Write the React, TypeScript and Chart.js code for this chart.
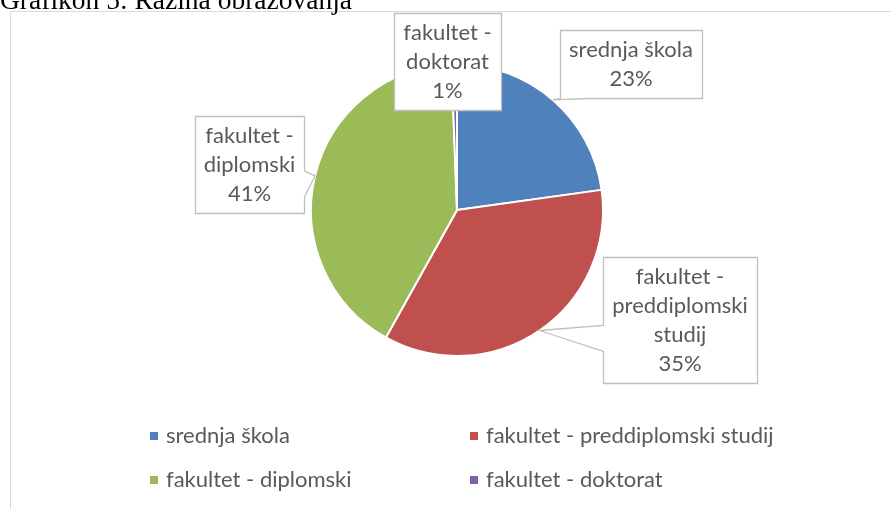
import React, { useEffect, useRef } from 'react';
import { Chart, registerables } from 'chart.js';

Chart.register(...registerables);

// ---- data ----
const categories = [
  'srednja škola',
  'fakultet - preddiplomski studij',
  'fakultet - diplomski',
  'fakultet - doktorat',
];
const values = [22.8, 35.3, 41.3, 0.6];
const colors = ['#4F81BD', '#C0504D', '#9BBB59', '#8064A2'];
const titleText = 'Grafikon 5: Razina obrazovanja';

// ---- layout ----
const W = 891;
const H = 509;
const CX = 457;
const CY = 210;
const R = 146;
const FONT = '22px Lato';
const TEXT_COLOR = '#595959';
const LINE_COLOR = '#BFBFBF';
const LH = 29;
const PAD_X = 9;
const PAD_Y = 5;
const labelBoxOffsets: [number, number][] = [
  [174, -146.5],
  [223, 110],
  [-207.5, -45.5],
  [-9.5, -149],
];
const labelWrapWidths = [150, 160, 105, 100];
const labelPointerSide: (string | null)[] = ['bottom', 'left', 'right', null];
const legendColX = [150, 470];
const legendRowY = [436, 480];

function wrapText(ctx: CanvasRenderingContext2D, text: string, maxW: number): string[] {
  const words = text.split(' ');
  const lines: string[] = [];
  let cur = '';
  for (const w of words) {
    const test = cur ? cur + ' ' + w : w;
    if (cur && ctx.measureText(test).width > maxW) {
      lines.push(cur);
      cur = w;
    } else {
      cur = test;
    }
  }
  if (cur) lines.push(cur);
  return lines;
}

const framePlugin = {
  id: 'frame',
  beforeDraw(chart: any) {
    const ctx = chart.ctx;
    ctx.save();
    ctx.strokeStyle = '#D9D9D9';
    ctx.lineWidth = 1;
    ctx.beginPath();
    ctx.moveTo(10.5, 509);
    ctx.lineTo(10.5, 11.5);
    ctx.lineTo(891, 11.5);
    ctx.stroke();
    ctx.restore();
  },
};

const calloutPlugin = {
  id: 'callouts',
  afterDatasetsDraw(chart: any) {
    const ctx: CanvasRenderingContext2D = chart.ctx;
    const meta = chart.getDatasetMeta(0);
    const data: number[] = chart.data.datasets[0].data;
    const total = data.reduce((a, b) => a + b, 0);
    ctx.save();
    ctx.font = FONT;
    meta.data.forEach((arc: any, i: number) => {
      const p = arc.getProps(['x', 'y', 'startAngle', 'endAngle', 'outerRadius'], true);
      const mid = (p.startAngle + p.endAngle) / 2;
      const ax = p.x + Math.cos(mid) * p.outerRadius;
      const ay = p.y + Math.sin(mid) * p.outerRadius;
      const lines = wrapText(ctx, chart.data.labels[i], labelWrapWidths[i]);
      lines.push(Math.round((data[i] / total) * 100) + '%');
      const tw = Math.max(...lines.map((l) => ctx.measureText(l).width));
      const bw = tw + PAD_X * 2;
      const bh = lines.length * LH + PAD_Y * 2;
      const bcx = p.x + labelBoxOffsets[i][0];
      const bcy = p.y + labelBoxOffsets[i][1];
      const L = Math.round(bcx - bw / 2) + 0.5;
      const T = Math.round(bcy - bh / 2) + 0.5;
      const Rr = Math.round(bcx + bw / 2) + 0.5;
      const B = Math.round(bcy + bh / 2) + 0.5;
      const side = labelPointerSide[i];
      const half = 13;
      ctx.beginPath();
      ctx.moveTo(L, T);
      ctx.lineTo(Rr, T);
      if (side === 'right') {
        const c = Math.min(Math.max(ay + 8, T + half), B - half);
        ctx.lineTo(Rr, c - half);
        ctx.lineTo(ax, ay);
        ctx.lineTo(Rr, c + half);
      }
      ctx.lineTo(Rr, B);
      if (side === 'bottom') {
        const c = Math.min(Math.max(ax + 8, L + half), Rr - half);
        ctx.lineTo(c + half, B);
        ctx.lineTo(ax, ay);
        ctx.lineTo(c - half, B);
      }
      ctx.lineTo(L, B);
      if (side === 'left') {
        const c = Math.min(Math.max(ay + 8, T + half), B - half);
        ctx.lineTo(L, c + half);
        ctx.lineTo(ax, ay);
        ctx.lineTo(L, c - half);
      }
      ctx.closePath();
      ctx.fillStyle = '#FFFFFF';
      ctx.fill();
      ctx.strokeStyle = LINE_COLOR;
      ctx.lineWidth = 1.3;
      ctx.stroke();
      ctx.fillStyle = TEXT_COLOR;
      ctx.textAlign = 'center';
      ctx.textBaseline = 'middle';
      lines.forEach((l, k) => {
        ctx.fillText(l, bcx, T + PAD_Y + LH * (k + 0.5));
      });
    });
    ctx.restore();
  },
};

const legendPlugin = {
  id: 'gridLegend',
  afterDraw(chart: any) {
    const ctx: CanvasRenderingContext2D = chart.ctx;
    ctx.save();
    ctx.font = FONT;
    ctx.textBaseline = 'middle';
    ctx.textAlign = 'left';
    chart.data.labels.forEach((lab: string, i: number) => {
      const x = legendColX[i % 2];
      const y = legendRowY[Math.floor(i / 2)];
      ctx.fillStyle = chart.data.datasets[0].backgroundColor[i];
      ctx.fillRect(x, y - 4, 8, 8);
      ctx.fillStyle = TEXT_COLOR;
      ctx.fillText(lab, x + 16, y);
    });
    ctx.restore();
  },
};

export default function App() {
  const ref = useRef<HTMLCanvasElement>(null);
  useEffect(() => {
    if (!ref.current) return;
    const chart = new Chart(ref.current, {
      type: 'pie',
      data: {
        labels: categories,
        datasets: [
          {
            data: values,
            backgroundColor: colors,
            borderColor: '#FFFFFF',
            borderWidth: 2,
          },
        ],
      },
      options: {
        animation: false,
        responsive: false,
        events: [],
        layout: {
          padding: {
            top: CY - R - 1,
            bottom: H - (CY + R + 1),
            left: CX - 300,
            right: W - (CX + 300),
          },
        },
        plugins: {
          legend: { display: false },
          tooltip: { enabled: false },
          title: { display: false },
        },
      },
      plugins: [framePlugin, calloutPlugin, legendPlugin],
    });
    return () => chart.destroy();
  }, []);
  return (
    <div style={{ position: 'absolute', left: 0, top: 0, width: W, height: H, overflow: 'hidden', background: '#fff' }}>
      <canvas ref={ref} width={W} height={H} style={{ position: 'absolute', left: 0, top: 0, width: W, height: H }} />
      <div
        style={{
          position: 'absolute',
          left: 0,
          top: -14,
          fontFamily: '"Liberation Serif", "Times New Roman", serif',
          fontSize: 27.5,
          lineHeight: 1,
          whiteSpace: 'nowrap',
          color: '#000',
        }}
      >
        {titleText}
      </div>
    </div>
  );
}
